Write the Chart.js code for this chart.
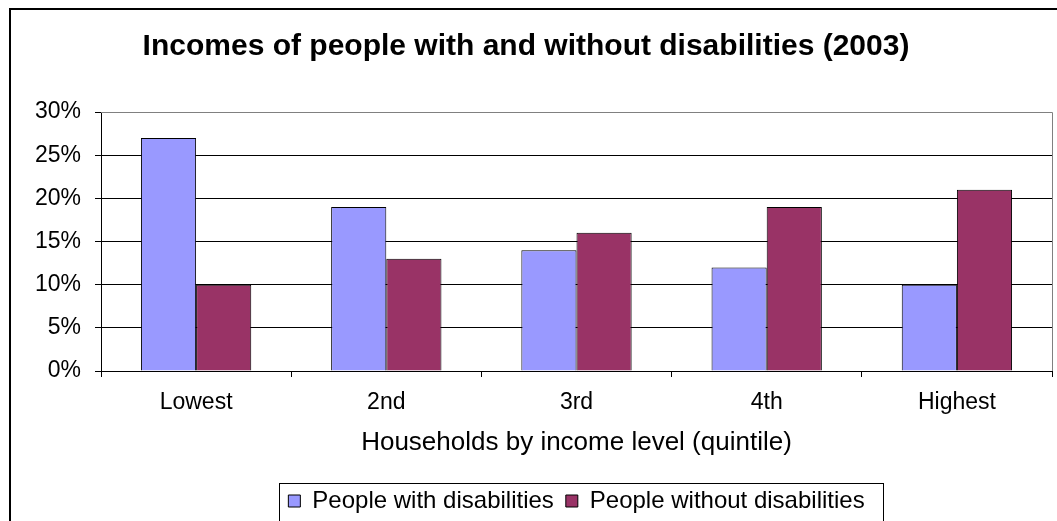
<!DOCTYPE html>
<html>
<head>
<meta charset="utf-8">
<script src="https://cdn.jsdelivr.net/npm/chart.js@4"></script>
<style>
  body { margin: 0; background: #fff; }
  #wrap { width: 1057px; height: 521px; }
</style>
</head>
<body>
<div id="wrap"><canvas id="incomeChart" width="1057" height="521"></canvas></div>
<script>
// data
const quintiles = ['Lowest', '2nd', '3rd', '4th', 'Highest'];
const withDisabilities = [27, 19, 14, 12, 10];
const withoutDisabilities = [10, 13, 16, 19, 21];
const seriesNames = ['People with disabilities', 'People without disabilities'];

const FONT = 'Liberation Sans, Arial, sans-serif';

// outer frame, grey plot border and the box round the legend
const framePlugin = {
    id: 'frames',
    afterDraw(chart) {
        const ctx = chart.ctx;
        const a = chart.chartArea;
        ctx.save();
        // outer frame (cut off on right / bottom like the picture)
        ctx.strokeStyle = '#000';
        ctx.lineWidth = 2;
        ctx.strokeRect(10, 9, 1200, 700);
        // plot area border top + right in grey
        ctx.strokeStyle = '#808080';
        ctx.lineWidth = 1;
        ctx.beginPath();
        ctx.moveTo(a.left, a.top + 0.5);
        ctx.lineTo(a.right + 0.5, a.top + 0.5);
        ctx.lineTo(a.right + 0.5, a.bottom);
        ctx.stroke();
        // legend box
        const boxes = chart.legend.legendHitBoxes;
        if (boxes && boxes.length) {
            let l = Infinity, r = -Infinity, mid = 0;
            boxes.forEach(h => {
                l = Math.min(l, h.left); r = Math.max(r, h.left + h.width);
                mid += h.top + h.height / 2;
            });
            mid /= boxes.length;
            ctx.strokeStyle = '#000';
            ctx.lineWidth = 1;
            ctx.strokeRect(Math.round(l - 9) + 0.5, Math.round(mid - 18) + 0.5, Math.round(r - l + 28), 38);
        }
        ctx.restore();
    }
};

const ctx = document.getElementById('incomeChart').getContext('2d');
new Chart(ctx, {
    type: 'bar',
    data: {
        labels: quintiles,
        datasets: [
            {
                label: seriesNames[0],
                data: withDisabilities,
                backgroundColor: '#9999FF',
                borderColor: '#000',
                borderWidth: 1
            },
            {
                label: seriesNames[1],
                data: withoutDisabilities,
                backgroundColor: '#993366',
                borderColor: '#000',
                borderWidth: 1
            }
        ]
    },
    options: {
        responsive: false,
        animation: false,
        layout: { padding: { left: 0, right: 5, top: 0, bottom: -2 } },
        datasets: {
            bar: { categoryPercentage: 0.58, barPercentage: 1.0 }
        },
        plugins: {
            title: {
                display: true,
                text: 'Incomes of people with and without disabilities (2003)',
                color: '#000',
                font: { family: FONT, size: 30, weight: 'bold' },
                padding: { top: 29, bottom: 47 }
            },
            legend: {
                position: 'bottom',
                fullSize: false,
                labels: {
                    color: '#000',
                    font: { family: FONT, size: 24 },
                    boxWidth: 12,
                    boxHeight: 12,
                    padding: 12
                }
            },
            tooltip: { enabled: false }
        },
        scales: {
            x: {
                afterFit(scale) { scale.height = 106; },
                grid: {
                    display: true,
                    drawOnChartArea: false,
                    tickLength: 6,
                    color: '#000',
                    offset: true
                },
                border: { color: '#000', width: 1 },
                ticks: {
                    color: '#000',
                    font: { family: FONT, size: 23 },
                    padding: 12
                },
                title: {
                    display: true,
                    text: 'Households by income level (quintile)',
                    color: '#000',
                    font: { family: FONT, size: 26 },
                    padding: { top: 10, bottom: 19 }
                }
            },
            y: {
                min: 0,
                max: 30,
                afterFit(scale) { scale.width = 101; },
                grid: {
                    color: c => (c.tick && c.tick.value === 30) ? '#808080' : '#000',
                    tickColor: '#000',
                    tickLength: 6
                },
                border: { color: '#000', width: 1 },
                ticks: {
                    stepSize: 5,
                    color: '#000',
                    padding: 14,
                    font: { family: FONT, size: 23 },
                    callback: v => v + '%'
                }
            }
        }
    },
    plugins: [framePlugin]
});
</script>
</body>
</html>
